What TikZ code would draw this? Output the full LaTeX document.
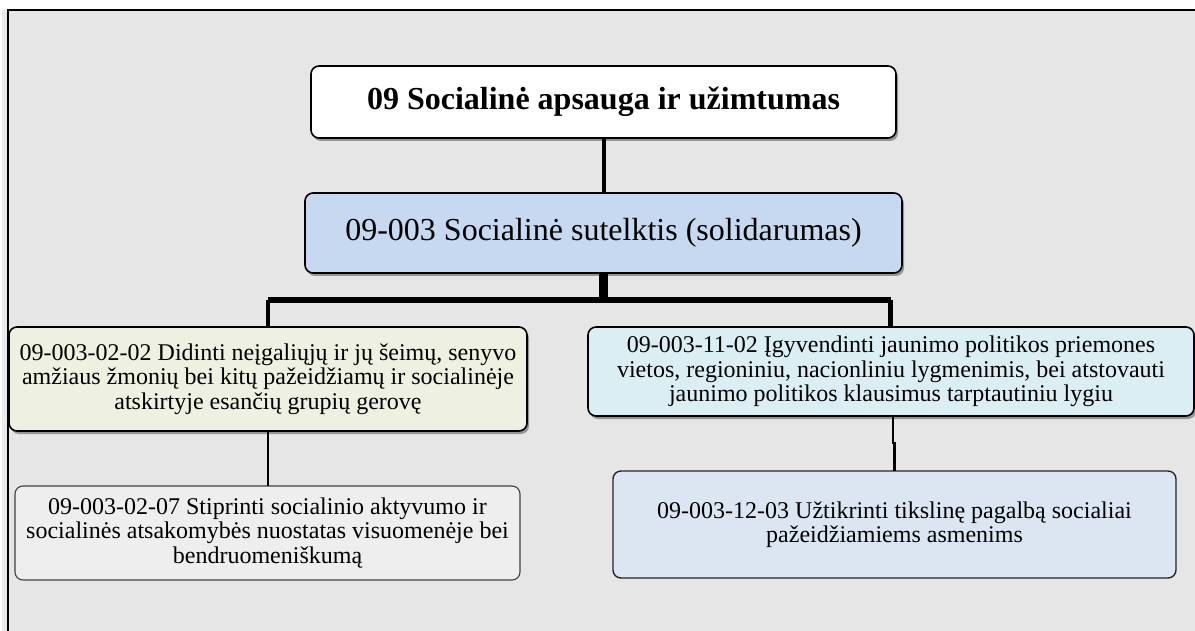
\documentclass[tikz,border=0pt]{standalone}
\usepackage{fontspec}
\setmainfont{Liberation Serif}
\usetikzlibrary{shadows}
\definecolor{bggray}{HTML}{E6E6E6}
\definecolor{stripgray}{HTML}{EAEAEA}
\definecolor{secblue}{HTML}{C6D9F1}
\definecolor{leftgreen}{HTML}{EEF1E1}
\definecolor{leftgray}{HTML}{EEEEEE}
\definecolor{rightcyan}{HTML}{DBEEF4}
\definecolor{rightblue}{HTML}{DCE6F2}
\tikzset{
  box/.style={draw=black, line width=1.6pt, rounded corners=8pt, inner sep=0pt, outer sep=0pt, align=center},
  shadowed/.style={drop shadow={shadow xshift=2pt, shadow yshift=-3pt, fill=black, opacity=0.35}},
  thinbox/.style={draw=black!75, line width=1.1pt, rounded corners=8pt, inner sep=0pt, outer sep=0pt, align=center},
  bodytext/.style={font=\fontsize{24pt}{24.3pt}\selectfont},
  conn/.style={line width=4pt, black},
  thinconn/.style={line width=2.4pt, black}
}
\begin{document}
\begin{tikzpicture}[x=1pt,y=-1pt]
\useasboundingbox (0,0) rectangle (1195,631);
\fill[white] (0,0) rectangle (1195,631);
\fill[stripgray] (2,10) rectangle (8,631);
\fill[bggray] (8,10) rectangle (1195,631);
\draw[line width=2pt, black] (8.3,631) -- (8.3,10.3) -- (1195,10.3);

% nodes
\node[box, shadowed, fill=white, minimum width=585pt, minimum height=72pt,
      font=\bfseries\fontsize{32pt}{36pt}\selectfont] (t) at (603.5,102)
      {09 Socialinė apsauga ir užimtumas};
\node[box, shadowed, fill=secblue, minimum width=597pt, minimum height=80pt,
      font=\fontsize{32pt}{36pt}\selectfont] (s) at (603.5,233)
      {09-003 Socialinė sutelktis (solidarumas)};
\node[box, shadowed, fill=leftgreen, minimum width=518pt, minimum height=104pt, bodytext] (l) at (268,379)
      {09-003-02-02 Didinti neįgaliųjų ir jų šeimų, senyvo\\amžiaus žmonių bei kitų pažeidžiamų ir socialinėje\\atskirtyje esančių grupių gerovę};
\node[box, shadowed, fill=rightcyan, minimum width=606pt, minimum height=89pt, bodytext] (r) at (891,371.5)
      {09-003-11-02 Įgyvendinti jaunimo politikos priemones\\vietos, regioniniu, nacionliniu lygmenimis, bei atstovauti\\jaunimo politikos klausimus tarptautiniu lygiu};
\node[thinbox, fill=leftgray, minimum width=505pt, minimum height=94pt, bodytext] (lb) at (267.5,533)
      {09-003-02-07 Stiprinti socialinio aktyvumo ir\\socialinės atsakomybės nuostatas visuomenėje bei\\bendruomeniškumą};
\node[thinbox, draw=black!85, line width=1.4pt, fill=rightblue, minimum width=563pt, minimum height=107pt, bodytext] (rb) at (894.5,524.5)
      {09-003-12-03 Užtikrinti tikslinę pagalbą socialiai\\pažeidžiamiems asmenims};

% connectors
\coordinate (bl) at (268,300);
\coordinate (br) at (890.5,300);
\coordinate (j) at (892.7,443);
\draw[conn] (t.south) -- (s.north);
\draw[line width=9pt] (s.south) -- (s.south |- bl);
\draw[line width=6pt, line join=miter] (bl) -- (br);
\draw[line width=4.6pt] (bl) -- (l.north);
\draw[line width=5pt] (br) -- (br |- r.north);
\draw[thinconn] (l.south) -- (l.south |- lb.north);
\draw[thinconn] (r.south -| j) -- (j) -- (j -| rb.north) -- (rb.north);
\end{tikzpicture}
\end{document}
